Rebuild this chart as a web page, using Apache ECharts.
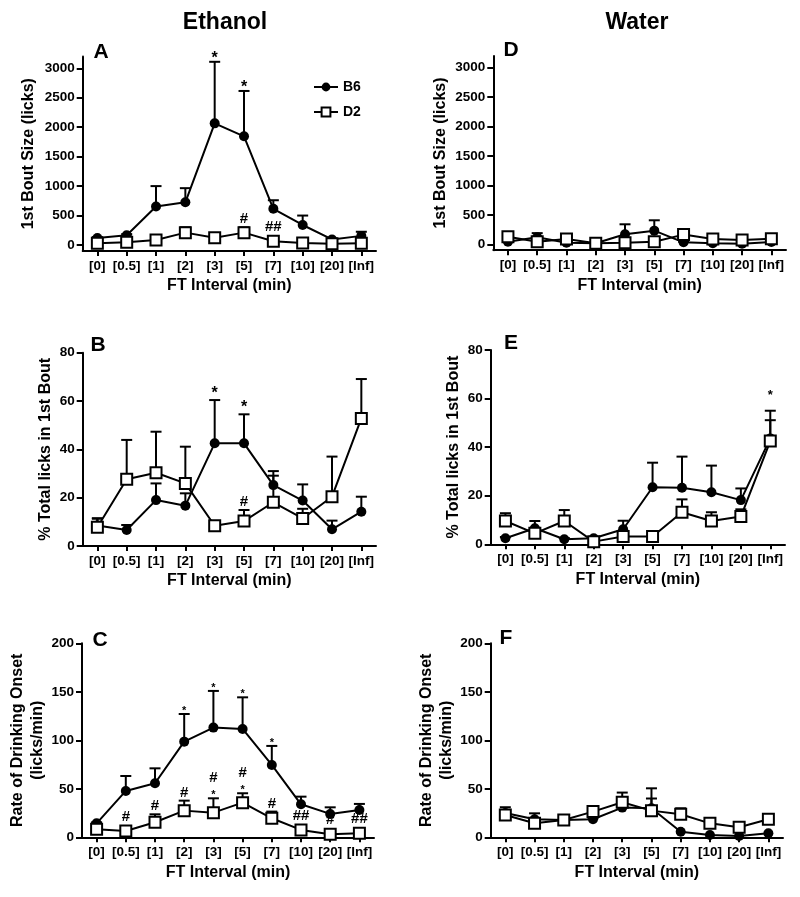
<!DOCTYPE html>
<html><head><meta charset="utf-8">
<script src="https://cdn.jsdelivr.net/npm/echarts@6/dist/echarts.min.js"></script>
<style>html,body{margin:0;padding:0;background:#fff}#c{width:800px;height:897px}</style>
</head><body><div id="c"></div>
<script>
// ---------------- DATA ----------------
const categories = ['[0]','[0.5]','[1]','[2]','[3]','[5]','[7]','[10]','[20]','[Inf]'];
const seriesNames = ['B6','D2'];

// Y tick labels
const boutTicks = [0,500,1000,1500,2000,2500,3000];
const pctTicks = [0,20,40,60,80];
const rateTicks = [0,50,100,150,200];

// A: Ethanol, 1st bout size (licks)
const ethBoutB6 = [120,165,655,725,2065,1845,615,340,95,155];
const ethBoutB6Sem = [15,20,345,240,1045,770,145,160,15,70];
const ethBoutD2 = [30,46,85,210,125,210,65,35,20,28];
const ethBoutD2Sem = [15,15,20,90,20,90,15,10,10,15];

// D: Water, 1st bout size (licks)
const watBoutB6 = [45,120,28,17,170,232,34,17,11,40];
const watBoutB6Sem = [10,70,10,5,170,176,10,5,5,10];
const watBoutD2 = [130,45,90,17,28,45,165,90,74,96];
const watBoutD2Sem = [10,10,10,5,10,10,15,10,10,10];

// B: Ethanol, % total licks in 1st bout
const ethPctB6 = [8.5,6.6,19.0,16.7,42.5,42.5,25.2,18.8,6.9,14.2];
const ethPctB6Sem = [3.0,2.1,6.9,5.1,17.9,12.0,5.8,6.7,3.6,6.2];
const ethPctD2 = [7.8,27.6,30.3,25.9,8.4,10.3,18.1,11.4,20.4,52.8];
const ethPctD2Sem = [3.5,16.3,17.0,15.2,1.0,4.6,11.0,4.0,16.6,16.3];

// E: Water, % total licks in 1st bout
const watPctB6 = [2.5,6.6,2.1,2.5,6.2,23.5,23.3,21.4,18.2,43.6];
const watPctB6Sem = [0.5,3.0,0.5,0.5,3.5,10.1,12.8,11.0,4.8,7.5];
const watPctD2 = [9.6,4.5,9.6,1.1,3.2,3.2,13.2,9.6,11.4,42.5];
const watPctD2Sem = [3.2,1.0,4.5,0.5,1.0,1.0,5.3,3.6,3.0,12.5];

// C: Ethanol, rate of drinking onset (licks/min)
const ethRateB6 = [14.4,47.8,55.7,98.6,113.1,111.7,74.6,34.0,24.1,28.2];
const ethRateB6Sem = [1.0,15.4,15.4,28.5,37.8,32.6,19.6,7.9,6.8,6.2];
const ethRateD2 = [8.2,6.5,15.5,27.5,25.4,35.7,19.6,7.6,3.1,4.1];
const ethRateD2Sem = [1.0,1.0,8.2,10.3,14.8,9.7,6.9,1.0,1.0,1.0];

// F: Water, rate of drinking onset (licks/min)
const watRateB6 = [25.0,18.6,17.9,18.6,30.6,30.0,5.8,2.4,1.4,4.1];
const watRateB6Sem = [6.0,6.1,1.0,1.0,4.0,20.5,0.5,0.5,0.5,0.5];
const watRateD2 = [23.0,14.4,17.9,26.5,36.1,27.5,23.7,14.4,10.3,18.6];
const watRateD2Sem = [5.0,5.0,4.0,1.0,10.0,12.5,6.2,2.0,1.0,2.0];

// Significance annotations (category, series it sits above, text)
const annotA = [
  {cat:'[3]', s:'B6', text:'*'}, {cat:'[5]', s:'B6', text:'*'},
  {cat:'[5]', s:'D2', text:'#'}, {cat:'[7]', s:'D2', text:'##'}
];
const annotB = [
  {cat:'[3]', s:'B6', text:'*'}, {cat:'[5]', s:'B6', text:'*'},
  {cat:'[5]', s:'D2', text:'#'}
];
const annotC = [
  {cat:'[2]', s:'B6', text:'*'}, {cat:'[3]', s:'B6', text:'*'},
  {cat:'[5]', s:'B6', text:'*'}, {cat:'[7]', s:'B6', text:'*'},
  {cat:'[0.5]', s:'D2', text:'#'}, {cat:'[1]', s:'D2', text:'#'},
  {cat:'[2]', s:'D2', text:'#'},
  {cat:'[3]', s:'D2', text:'*'}, {cat:'[3]', s:'D2', text:'#'},
  {cat:'[5]', s:'D2', text:'*'}, {cat:'[5]', s:'D2', text:'#'},
  {cat:'[7]', s:'D2', text:'#'}, {cat:'[10]', s:'D2', text:'##'},
  {cat:'[20]', s:'D2', text:'#'}, {cat:'[Inf]', s:'D2', text:'##'}
];
const annotD = [];
const annotE = [{cat:'[Inf]', s:'D2', text:'*'}];
const annotF = [];

// ---------------- STYLE / LAYOUT ----------------
const FONT = '"Liberation Sans", Arial, Helvetica, sans-serif';
const panels = [
  {letter:'A', grid:{left:82.7, top:56.5, width:293.3, height:194.4}, min:-100, max:3200, ticks:boutTicks,
   name:'1st Bout Size (licks)', nameGap:44, b6:ethBoutB6, b6s:ethBoutB6Sem, d2:ethBoutD2, d2s:ethBoutD2Sem,
   annot:annotA, starSize:16, starGap:8, letterPos:[101,52]},
  {letter:'D', grid:{left:493.3, top:55.9, width:292.7, height:194.3}, min:-100, max:3200, ticks:boutTicks,
   name:'1st Bout Size (licks)', nameGap:43, b6:watBoutB6, b6s:watBoutB6Sem, d2:watBoutD2, d2s:watBoutD2Sem,
   annot:annotD, starSize:15, starGap:8, letterPos:[511,50]},
  {letter:'B', grid:{left:82.7, top:352.7, width:293.3, height:193.3}, min:0, max:80, ticks:pctTicks,
   name:'% Total licks in 1st Bout', nameGap:26, b6:ethPctB6, b6s:ethPctB6Sem, d2:ethPctD2, d2s:ethPctD2Sem,
   annot:annotB, starSize:16, starGap:11, letterPos:[98,345]},
  {letter:'E', grid:{left:490.7, top:350, width:294.3, height:194.3}, min:0, max:80, ticks:pctTicks,
   name:'% Total licks in 1st Bout', nameGap:24, b6:watPctB6, b6s:watPctB6Sem, d2:watPctD2, d2s:watPctD2Sem,
   annot:annotE, starSize:13, starGap:19, letterPos:[511,343]},
  {letter:'C', grid:{left:82, top:643.3, width:292, height:194}, min:0, max:200, ticks:rateTicks,
   name:'Rate of Drinking Onset\n(licks/min)', nameGap:32, b6:ethRateB6, b6s:ethRateB6Sem, d2:ethRateD2, d2s:ethRateD2Sem,
   annot:annotC, starSize:11, starGap:6, letterPos:[100,640]},
  {letter:'F', grid:{left:490.7, top:643.3, width:292.3, height:194}, min:0, max:200, ticks:rateTicks,
   name:'Rate of Drinking Onset\n(licks/min)', nameGap:32, b6:watRateB6, b6s:watRateB6Sem, d2:watRateD2, d2s:watRateD2Sem,
   annot:annotF, starSize:11, starGap:6, letterPos:[506,638]}
];

const axisColor = '#000';
const grids = [], xAxes = [], yAxes = [], series = [];

function errRender(params, api) {
  const c = api.value(0), m = api.value(1), t = api.value(2);
  const p0 = api.coord([c, m]), p1 = api.coord([c, t]);
  if (p0[1] - p1[1] < 0.5) return null;
  return {type:'group', children:[
    {type:'line', shape:{x1:p0[0], y1:p0[1], x2:p1[0], y2:p1[1]}, style:{stroke:'#000', lineWidth:2}},
    {type:'line', shape:{x1:p1[0]-5.5, y1:p1[1], x2:p1[0]+5.5, y2:p1[1]}, style:{stroke:'#000', lineWidth:2}}
  ]};
}

panels.forEach((p, i) => {
  grids.push(Object.assign({containLabel:false}, p.grid));
  xAxes.push({
    gridIndex:i, type:'category', data:categories, boundaryGap:true,
    name:'FT Interval (min)', nameLocation:'middle', nameGap:27,
    nameTextStyle:{fontFamily:FONT, fontWeight:'bold', fontSize:16, color:'#000'},
    axisLine:{show:true, onZero:false, lineStyle:{color:axisColor, width:2}},
    axisTick:{show:true, alignWithLabel:true, interval:0, length:5, lineStyle:{color:axisColor, width:2}},
    axisLabel:{interval:0, margin:8, fontFamily:FONT, fontWeight:'bold', fontSize:13.5, color:'#000'},
    splitLine:{show:false}
  });
  yAxes.push({
    gridIndex:i, type:'value', min:p.min, max:p.max,
    name:p.name, nameLocation:'middle', nameGap:p.nameGap, nameRotate:90,
    nameTextStyle:{fontFamily:FONT, fontWeight:'bold', fontSize:16, color:'#000', lineHeight:20},
    axisLine:{show:true, onZero:false, lineStyle:{color:axisColor, width:2}},
    axisTick:{show:true, length:6, customValues:p.ticks, lineStyle:{color:axisColor, width:2}},
    axisLabel:{margin:8, customValues:p.ticks, formatter:v => String(v),
      fontFamily:FONT, fontWeight:'bold', fontSize:13.5, color:'#000'},
    splitLine:{show:false}
  });
  const errData = (m, s) => m.map((v, k) => [k, v, v + s[k]]);
  series.push({type:'custom', name:'B6 err', xAxisIndex:i, yAxisIndex:i, z:1, renderItem:errRender,
    encode:{x:0, y:[1,2]}, data:errData(p.b6, p.b6s), silent:true});
  series.push({type:'custom', name:'D2 err', xAxisIndex:i, yAxisIndex:i, z:1, renderItem:errRender,
    encode:{x:0, y:[1,2]}, data:errData(p.d2, p.d2s), silent:true});
  series.push({type:'line', name:'B6', xAxisIndex:i, yAxisIndex:i, z:3, data:p.b6,
    symbol:'circle', symbolSize:10, showSymbol:true,
    itemStyle:{color:'#000', borderColor:'#000', borderWidth:0},
    lineStyle:{color:'#000', width:2}});
  series.push({type:'line', name:'D2', xAxisIndex:i, yAxisIndex:i, z:4, data:p.d2,
    symbol:'rect', symbolSize:11, showSymbol:true,
    itemStyle:{color:'#fff', borderColor:'#000', borderWidth:2},
    lineStyle:{color:'#000', width:2}});
  if (p.annot.length) {
    const seen = {};
    const annData = p.annot.map(a => {
      const k = categories.indexOf(a.cat);
      const key = a.cat + a.s;
      const level = seen[key] || 0; seen[key] = level + 1;
      const m = a.s === 'B6' ? p.b6[k] : p.d2[k];
      const sem = a.s === 'B6' ? p.b6s[k] : p.d2s[k];
      return [k, m, m + sem, level];
    });
    const texts = p.annot.map(a => a.text);
    series.push({type:'custom', name:'annot', xAxisIndex:i, yAxisIndex:i, z:6, silent:true,
      encode:{x:0, y:[1,2]}, data:annData,
      renderItem:(params, api) => {
        const c = api.value(0), m = api.value(1), t = api.value(2), lev = api.value(3);
        const pm = api.coord([c, m]), pt = api.coord([c, t]);
        const base = Math.min(pt[1], pm[1] - 6);
        const txt = texts[params.dataIndex];
        let cy, fs;
        if (txt.indexOf('*') >= 0) {
          fs = p.starSize;
          cy = base - p.starGap + 0.28 * fs;
        } else {
          fs = 15;
          cy = base - 8 - (lev > 0 ? 12 : 0);
        }
        return {type:'text', x:pm[0], y:cy, style:{text:txt, fill:'#000',
          font:'bold ' + fs + 'px ' + FONT, align:'center', verticalAlign:'middle'}};
      }});
  }
});

const graphics = [
  {type:'text', x:225, y:23, style:{text:'Ethanol', font:'bold 23px ' + FONT, fill:'#000', align:'center', verticalAlign:'middle'}},
  {type:'text', x:637, y:23, style:{text:'Water', font:'bold 23px ' + FONT, fill:'#000', align:'center', verticalAlign:'middle'}}
];
panels.forEach(p => graphics.push({type:'text', x:p.letterPos[0], y:p.letterPos[1],
  style:{text:p.letter, font:'bold 21px ' + FONT, fill:'#000', align:'center', verticalAlign:'middle'}}));

const chart = echarts.init(document.getElementById('c'), null, {renderer:'canvas'});
chart.setOption({
  animation:false,
  backgroundColor:'#fff',
  textStyle:{fontFamily:FONT},
  legend:{data:seriesNames, orient:'vertical', left:308, top:75, itemWidth:24, itemHeight:11, itemGap:11,
    textStyle:{fontFamily:FONT, fontWeight:'bold', fontSize:14, color:'#000'}},
  grid:grids, xAxis:xAxes, yAxis:yAxes, series:series, graphic:graphics
});
</script></body></html>
